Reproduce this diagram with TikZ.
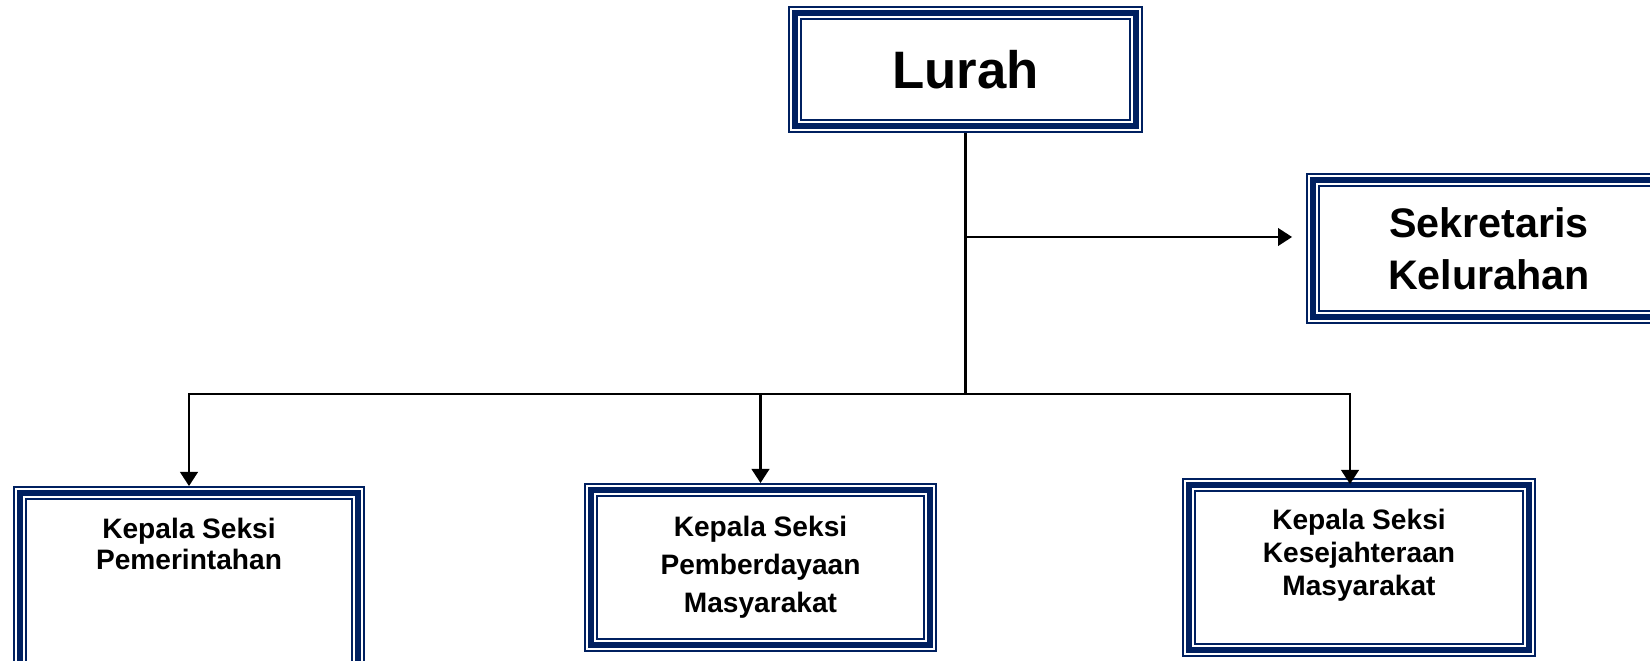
\documentclass[tikz,border=0pt]{standalone}
\usepackage{fontspec}
\setmainfont{Liberation Sans}
\usepackage{tikz}
\usetikzlibrary{calc,arrows.meta}
\definecolor{boxnavy}{RGB}{0,32,96}

\begin{document}
\begin{tikzpicture}[x=0.02cm,y=-0.02cm,
	orgbox/.style={preaction={draw=boxnavy,line width=7.94pt},
		preaction={draw=white,line width=5.67pt},
		draw=boxnavy,line width=3.4pt,rectangle,outer sep=3.97pt,
		align=center},
	conn/.style={line width=1.3pt,black},
	arr/.style={conn,-{Triangle[length=8pt,width=10pt]}}]
	\useasboundingbox (0,0) rectangle (1650,661);
	
	\node (lurah) at (965.5,69.5) [orgbox,minimum width=6.82cm,minimum height=2.26cm,
		font=\fontsize{30}{36}\selectfont\bfseries] {Lurah};
	\node (sekretaris) at (1489,248.5) [orgbox,minimum width=7.04cm,minimum height=2.74cm,
		font=\fontsize{23.5}{29.5}\selectfont\bfseries] {Sekretaris\\Kelurahan};
	
	\node (pemerintahan) at (189,583) [orgbox,minimum width=6.76cm,minimum height=3.6cm,
		text depth=44.7pt,font=\fontsize{16}{18.1}\selectfont\bfseries] {Kepala Seksi\\Pemerintahan};
	\node (pemberdayaan) at (760.5,567.5) [orgbox,minimum width=6.78cm,minimum height=3.1cm,
		font=\fontsize{16}{21.5}\selectfont\bfseries] {Kepala Seksi\\Pemberdayaan\\Masyarakat};
	\node (kesejahteraan) at (1359,567.5) [orgbox,minimum width=6.8cm,minimum height=3.3cm,
		text depth=16.9pt,font=\fontsize{16}{18.7}\selectfont\bfseries] {Kepala Seksi\\Kesejahteraan\\Masyarakat};
	
	\coordinate (split) at (lurah.south |- 0,394);
	\coordinate (branch) at (lurah.south |- 0,237);
	\coordinate (busL) at (pemerintahan.north |- split);
	\coordinate (busR) at (1350,394);
	
	\draw[conn] (lurah.south) -- (split);
	\draw[arr,shorten >=0.28cm] (branch) -- (branch -| sekretaris.west);
	\draw[arr] (split) -- (busL) -- (pemerintahan.north);
	\draw[arr,shorten >=-0.12cm] (split) -- (busR) -- (busR |- kesejahteraan.north);
	\draw[arr] (pemberdayaan.north |- split) -- (pemberdayaan.north);
\end{tikzpicture}
\end{document}
